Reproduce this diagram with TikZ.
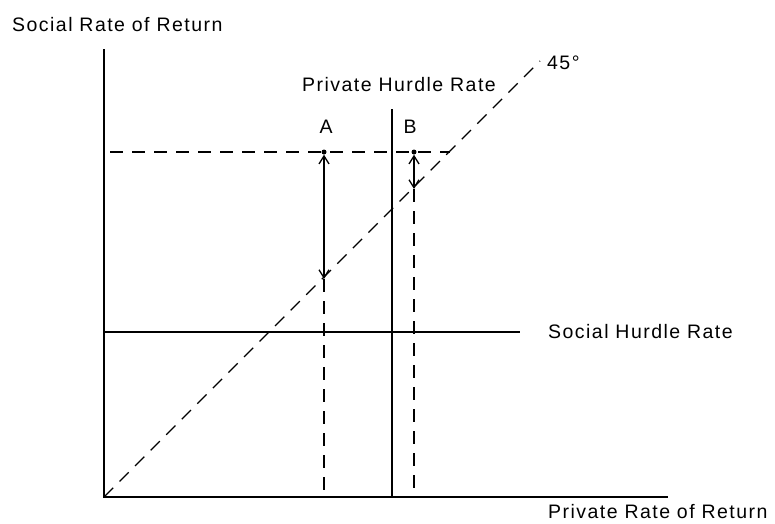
\documentclass[tikz,border=0pt]{standalone}
\usepackage{fontspec}
\setmainfont{Liberation Sans}[LetterSpace=7.5]
\usetikzlibrary{arrows.meta}

\begin{document}
\begin{tikzpicture}[x=1pt, y=-1pt,
    axis/.style={line width=1.3pt},
    guide/.style={line width=1.3pt, dash pattern=on 13pt off 9pt},
    lbl/.style={font=\fontsize{19.5}{22}\selectfont, inner sep=0pt},
    pt/.style={circle, fill=black, inner sep=0pt, minimum size=5pt},
    gap/.style={line width=1.3pt, {Straight Barb[length=8pt,width=10pt]}-{Straight Barb[length=8pt,width=10pt]}}
]
    \useasboundingbox (0,0) rectangle (775,523);

    % axes
    \coordinate (o) at (104,497);
    \coordinate (ytop) at (104,49);
    \coordinate (xend) at (668,497);
    \draw[axis] (ytop) -- (o) -- (xend);
    \node[lbl, anchor=west] at (12,25) (ylab) {Social Rate of Return};
    \node[lbl, anchor=west] at (548,512) (xlab) {Private Rate of Return};

    % hurdle rates
    \coordinate (s1) at (104,332);
    \coordinate (s2) at (520,332);
    \draw[axis] (s1) -- (s2);
    \node[lbl, anchor=west] at (548,332) (slab) {Social Hurdle Rate};
    \coordinate (p1) at (392,109);
    \coordinate (p2) at (392,497);
    \draw[axis] (p1) -- (p2);
    \node[lbl] at (399,85) (plab) {Private Hurdle Rate};

    % 45 degree line
    \coordinate (d) at (540,61);
    \draw[guide] (o) -- (d);
    \node[lbl, anchor=west] at (547,63) (dlab) {45°};

    % projects A and B
    \coordinate (h0) at (110,152);
    \coordinate (h1) at (450,152);
    \draw[guide] (h0) -- (h1);
    \node[pt] at (324,152) (a) {};
    \node[pt] at (414,152) (b) {};
    \node[lbl] at (326,127) (alab) {A};
    \node[lbl] at (410,127) (blab) {B};
    \coordinate (ad) at (324,279);
    \coordinate (bd) at (414,189);
    \coordinate (ax) at (324,497);
    \coordinate (bx) at (414,497);
    \draw[gap] (a) -- (ad);
    \draw[gap] (b) -- (bd);
    \draw[guide] (ad) -- (ax);
    \draw[guide] (bd) -- (bx);
\end{tikzpicture}
\end{document}
